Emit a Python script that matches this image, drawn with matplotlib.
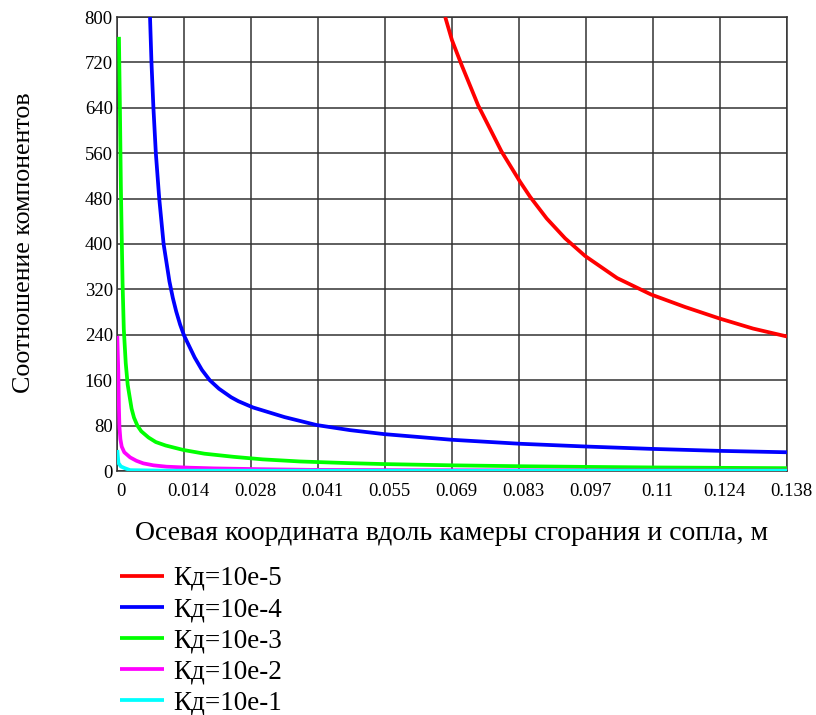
import matplotlib
matplotlib.use("Agg")
import matplotlib.pyplot as plt
from matplotlib.transforms import ScaledTranslation

# Axial coordinate (m) and component ratio for each Kd value
x_kd5 = [0.0676, 0.0690, 0.0710, 0.0744, 0.0792, 0.0830, 0.0851, 0.0885, 0.0923,
         0.0964, 0.1030, 0.1100, 0.1170, 0.1240, 0.1310, 0.1380]
y_kd5 = [800, 759, 715, 644, 563, 510, 483, 445, 410,
         379, 340, 311, 289, 269, 251, 237]

x_kd4 = [0.0068, 0.0071, 0.0075, 0.0080, 0.0087, 0.0096, 0.0108, 0.0115, 0.0122,
         0.0130, 0.0138, 0.0160, 0.0175, 0.0191, 0.0210, 0.0235, 0.0250, 0.0280,
         0.0345, 0.0411, 0.0480, 0.0550, 0.0620, 0.0690, 0.0830, 0.0970, 0.1100,
         0.1240, 0.1380]
y_kd4 = [800, 720, 640, 560, 480, 400, 334, 305, 281,
         258, 239, 200, 178, 160, 145, 130, 123, 112,
         95, 81, 72, 65, 60, 55, 48, 43, 39,
         35.5, 33]

x_kd3 = [0.0004, 0.0006, 0.0008, 0.0010, 0.00115, 0.0014, 0.0018, 0.0022, 0.0030,
         0.0035, 0.0042, 0.0050, 0.0065, 0.0080, 0.0100, 0.0137, 0.0180, 0.0240,
         0.0300, 0.0377, 0.0480, 0.0550, 0.0690, 0.0830, 0.0970, 0.1100, 0.1240,
         0.1380]
y_kd3 = [765, 640, 500, 400, 330, 250, 190, 152, 110,
         94, 80, 70, 59, 51, 45, 37, 30.5, 25,
         20.5, 16.8, 13.8, 12.2, 10, 8.4, 7.2, 6.3, 5.6,
         5.0]

x_kd2 = [0.00006, 0.00015, 0.00027, 0.0004, 0.0005, 0.0007, 0.00097, 0.0015, 0.0027,
         0.0040, 0.0054, 0.0075, 0.0102, 0.0150, 0.0200, 0.0295, 0.0400, 0.0600,
         0.0900, 0.1380]
y_kd2 = [238, 210, 175, 110, 78, 56, 43, 33, 24,
         18, 13.5, 10, 7.6, 5.8, 4.6, 3.2, 2.0, 1.4,
         1.0, 0.7]

x_kd1 = [0.00006, 0.0003, 0.0008, 0.0016, 0.0027, 0.0100, 0.0500, 0.1380]
y_kd1 = [37, 14, 8, 5, 1.5, 0.6, 0.4, 0.3]

series_labels = ["Кд=10e-5", "Кд=10e-4", "Кд=10e-3", "Кд=10e-2", "Кд=10e-1"]
series_colors = ["#ff0000", "#0000ff", "#00ff00", "#ff00ff", "#00ffff"]

x_ticks = [0.0138 * i for i in range(11)]
x_tick_labels = ["0", "0.014", "0.028", "0.041", "0.055", "0.069",
                 "0.083", "0.097", "0.11", "0.124", "0.138"]
y_ticks = list(range(0, 801, 80))

plt.rcParams["font.family"] = ["Liberation Serif", "DejaVu Serif"]

fig = plt.figure(figsize=(8.16, 7.15), dpi=100)
ax = fig.add_axes([117 / 816, 1 - 471 / 715, 670 / 816, 454 / 715])

series = [(x_kd5, y_kd5), (x_kd4, y_kd4), (x_kd3, y_kd3), (x_kd2, y_kd2), (x_kd1, y_kd1)]
handles = []
for (xs, ys), lab, col in zip(series, series_labels, series_colors):
    h, = ax.plot(xs, ys, color=col, lw=2.7, label=lab, solid_capstyle="butt",
                 solid_joinstyle="round", zorder=3)
    handles.append(h)

ax.set_xlim(0, 0.138)
ax.set_ylim(0, 800)
ax.set_xticks(x_ticks)
ax.set_xticklabels(x_tick_labels)
ax.set_yticks(y_ticks)
ax.grid(True, color="#333333", lw=1.1, zorder=1)
ax.tick_params(length=0, labelsize=13.5, colors="black")
ax.tick_params(axis="x", pad=9)
ax.tick_params(axis="y", pad=3)
for s in ax.spines.values():
    s.set_color("#333333")
    s.set_linewidth(1.1)

shift = ScaledTranslation(4 / 100, 0, fig.dpi_scale_trans)
for lbl in ax.get_xticklabels():
    lbl.set_transform(lbl.get_transform() + shift)

fig.text(452 / 816, 1 - 534 / 715, "Осевая координата вдоль камеры сгорания и сопла, м",
         ha="center", va="center", fontsize=20)
fig.text(24 / 816, 1 - 243 / 715, "Соотношение компонентов",
         ha="center", va="center", rotation=90, fontsize=18.7)

fig.legend(handles, series_labels, loc="upper left",
           bbox_to_anchor=(120 / 816, 1 - 566 / 715), frameon=False,
           fontsize=19.5, handlelength=1.63, handletextpad=0.33, labelspacing=0.225,
           borderaxespad=0, borderpad=0)

fig.savefig("out.png", dpi=100)
